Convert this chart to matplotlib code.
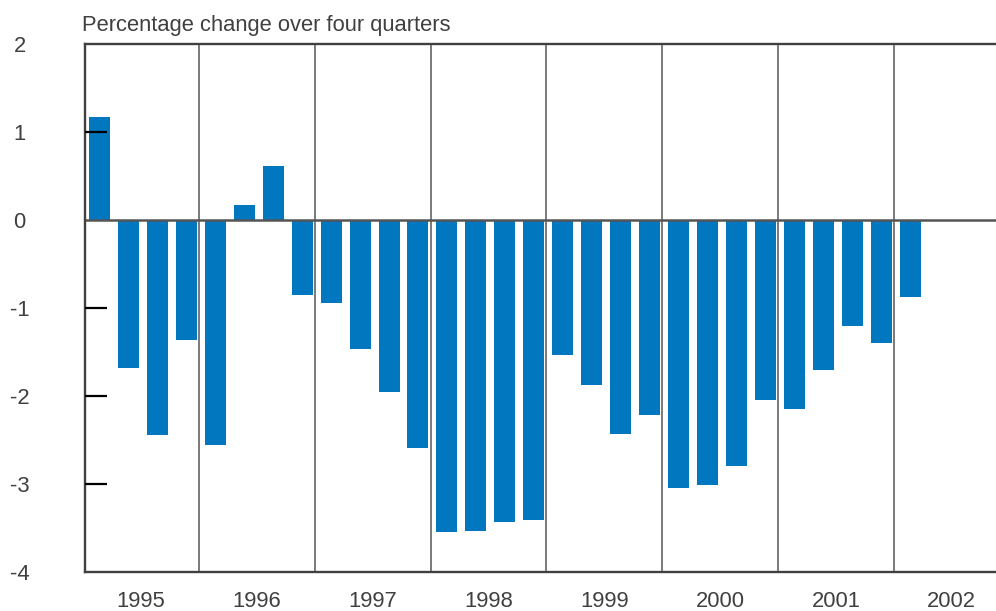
import matplotlib
matplotlib.use("Agg")
import matplotlib.pyplot as plt
import numpy as np

values = [1.17, -1.68, -2.44, -1.36,
          -2.56, 0.17, 0.61, -0.85,
          -0.94, -1.47, -1.96, -2.59,
          -3.54, -3.53, -3.43, -3.41,
          -1.53, -1.87, -2.43, -2.22,
          -3.04, -3.01, -2.79, -2.05,
          -2.15, -1.70, -1.21, -1.40,
          -0.87]
years = ["1995", "1996", "1997", "1998", "1999", "2000", "2001", "2002"]
yticks = [2, 1, 0, -1, -2, -3, -4]
inner_ticks = [1, -1, -2, -3]
title = "Percentage change over four quarters"

plt.rcParams['font.family'] = ['Liberation Sans', 'DejaVu Sans']
text_color = '#404040'
bar_color = '#0077be'

fig = plt.figure(figsize=(9.96, 6.11), dpi=100)
ax = fig.add_axes([85/996, 1 - 572/611, 1 - 85/996, (572 - 44)/611])

x = np.arange(len(values))
ax.bar(x + 0.2, values, width=0.725, align='edge', color=bar_color, zorder=2)

for k in range(4, 4 * len(years), 4):
    ax.axvline(k, color='#707070', lw=1.3, zorder=1)
ax.axhline(0, color='#555555', lw=1.8, zorder=3)

ax.set_xlim(0.06, 31.53)
ax.set_ylim(-4, 2)

ax.set_xticks([4 * i + 2 for i in range(len(years))])
ax.set_xticklabels(years)
ax.set_yticks(yticks)
ax.set_yticklabels([str(v) for v in yticks])
ax.tick_params(axis='x', length=0, pad=14, labelsize=15.8, labelcolor=text_color)
ax.tick_params(axis='y', which='major', length=0, pad=47, labelsize=15.8, labelcolor=text_color)
for lab in ax.get_yticklabels():
    lab.set_horizontalalignment('center')

ax.yaxis.remove_overlapping_locs = False
ax.set_yticks(inner_ticks, minor=True)
ax.tick_params(axis='y', which='minor', direction='in', length=16, width=1.6, color='black')
ax.set_axisbelow(False)
ax.yaxis.set_zorder(5)

for side in ['left', 'bottom', 'top']:
    ax.spines[side].set_color('#404040')
    ax.spines[side].set_linewidth(1.7)
ax.spines['right'].set_visible(False)
for s in ax.spines.values():
    s.set_zorder(4)

fig.text(82/996, 1 - 31/611, title, ha='left', va='baseline', fontsize=15.8, color=text_color)

fig.savefig("out.png", dpi=100)
